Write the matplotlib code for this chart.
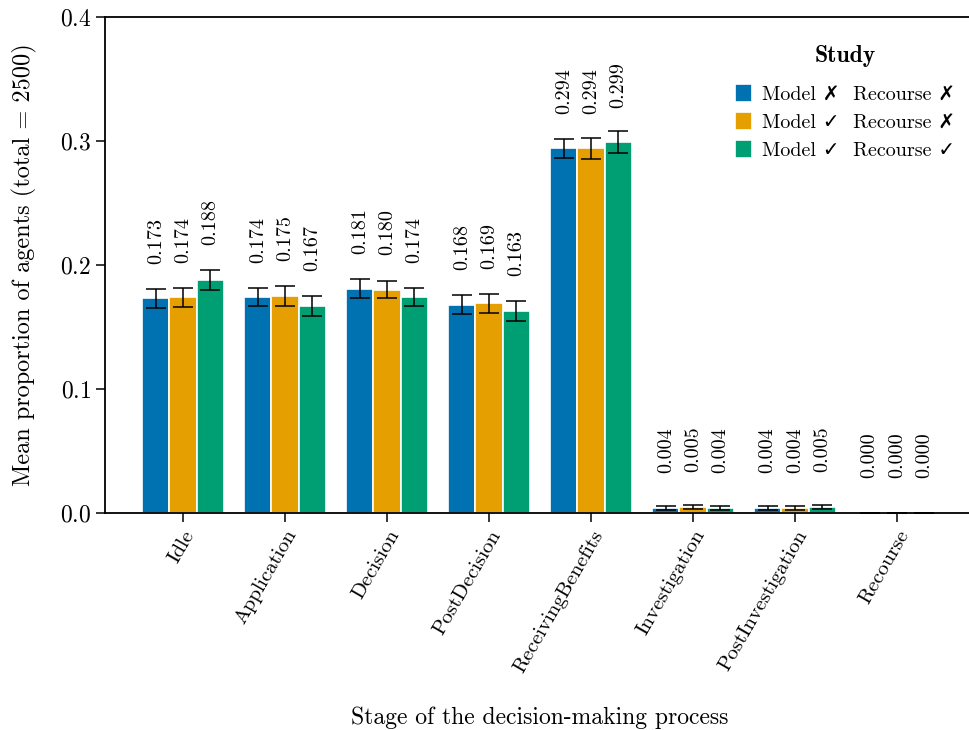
import matplotlib
matplotlib.use('Agg')
import matplotlib.pyplot as plt
import numpy as np

plt.rcParams.update({
    'font.family': ['cmr10', 'DejaVu Sans'],
    'mathtext.fontset': 'cm',
    'axes.formatter.use_mathtext': True,
    'font.size': 15,
})

stages = ['Idle', 'Application', 'Decision', 'PostDecision', 'ReceivingBenefits',
          'Investigation', 'PostInvestigation', 'Recourse']
studies = ['Model \u2717  Recourse \u2717', 'Model \u2713  Recourse \u2717', 'Model \u2713  Recourse \u2713']
colors = ['#0072b2', '#e69f00', '#009e73']

# mean proportion per stage, one list per study
no_model_no_recourse = [0.173, 0.174, 0.181, 0.168, 0.294, 0.004, 0.004, 0.000]
model_no_recourse = [0.174, 0.175, 0.180, 0.169, 0.294, 0.005, 0.004, 0.000]
model_recourse = [0.188, 0.167, 0.174, 0.163, 0.299, 0.004, 0.005, 0.000]

# half-width of the error bars
err_1 = [0.0074, 0.0071, 0.0077, 0.0075, 0.0078, 0.0015, 0.0013, 0.0]
err_2 = [0.0077, 0.0082, 0.0067, 0.0075, 0.0085, 0.0015, 0.0014, 0.0]
err_3 = [0.0079, 0.0081, 0.0074, 0.0078, 0.0090, 0.0013, 0.0014, 0.0002]

values = [no_model_no_recourse, model_no_recourse, model_recourse]
errors = [err_1, err_2, err_3]

fig = plt.figure(figsize=(9.7, 7.3), dpi=100)
ax = fig.add_axes([105 / 970, 1 - 513 / 730, 870 / 970, 496 / 730])

x = np.arange(len(stages))
width = 0.8 / 3
for i in range(3):
    pos = x + (i - 1) * width
    ax.bar(pos, values[i], width, color=colors[i], edgecolor='white', linewidth=1.2,
           label=studies[i], zorder=2)
    ax.errorbar(pos, values[i], yerr=errors[i], fmt='none', ecolor='black',
                elinewidth=1.1, capsize=7.5, capthick=1.1, zorder=3)
    for p, v in zip(pos, values[i]):
        ax.annotate(f'{v:.3f}', (p, v), xytext=(0, 25), textcoords='offset points',
                    rotation=90, ha='center', va='bottom', fontsize=14.5)

ax.set_xlim(-0.765, 7.765)
ax.set_ylim(0, 0.4)
ax.set_yticks([0.0, 0.1, 0.2, 0.3, 0.4])
ax.set_xticks(x)
ax.set_xticklabels(stages, rotation=60, ha='right', rotation_mode='anchor')
ax.tick_params(axis='both', length=6.5, width=1.1)
ax.tick_params(axis='x', labelsize=15)
ax.tick_params(axis='y', labelsize=17)
for s in ['left', 'bottom', 'top']:
    ax.spines[s].set_linewidth(1.3)
ax.spines['right'].set_visible(False)

ax.set_xlabel('Stage of the decision-making process', fontsize=17, labelpad=22)
ax.set_ylabel('Mean proportion of agents (total = 2500)', fontsize=17.5, labelpad=16)

leg = ax.legend(title='Study', loc='upper right', bbox_to_anchor=(0.998, 0.98),
                frameon=False, fontsize=14.5, handlelength=0.85, handleheight=1.0,
                handletextpad=0.5, labelspacing=0.42)
leg.get_title().set_fontfamily('cmb10')
leg.get_title().set_fontsize(17)
leg._legend_box.sep = 12

fig.savefig('out.png', dpi=100)
